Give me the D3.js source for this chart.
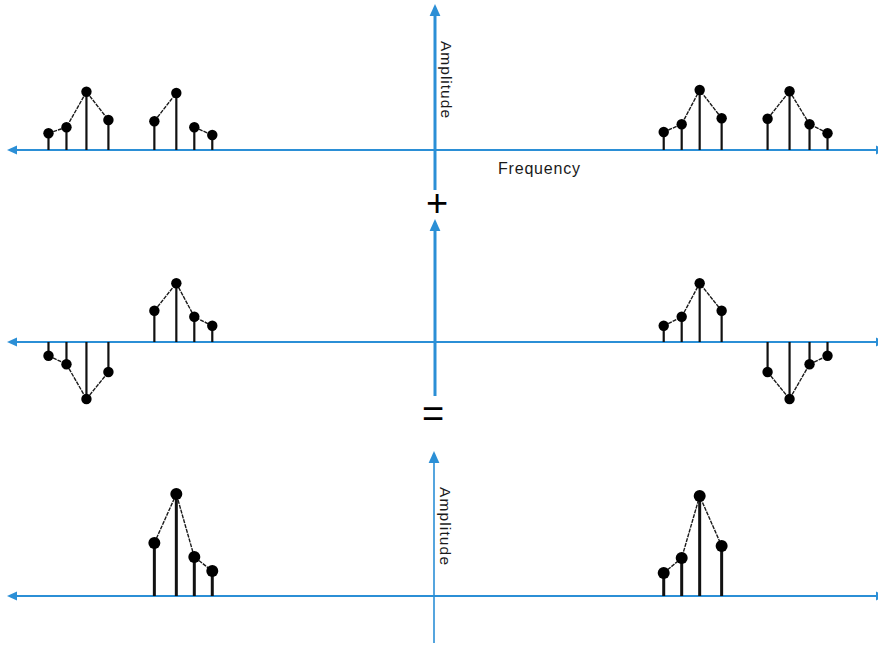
<!DOCTYPE html>
<meta charset="utf-8">
<body style="margin:0;background:#fff">
<script src="https://d3js.org/d3.v7.min.js" charset="utf-8"></script>
<style type="text/css">
  .stem { stroke: #111; }
  .link { stroke: #1a1a1a; fill: none; stroke-width: 1.4; stroke-dasharray: 4,1; }
  .dot { fill: #000; }
  .label { font-family: "Liberation Sans", Arial, sans-serif; fill: #1a1a1a; }
</style>
<script>
var width = 878;
var height = 645;
var blue = "#2b8fd6";

// frequencies (arbitrary units, symmetric about 0)
var freqs = [-19.5, -18.6, -17.6, -16.5, -14.2, -13.1, -12.2, -11.3,
             11.3, 12.2, 13.1, 14.2, 16.5, 17.6, 18.6, 19.5];
// spectrum 1 (top)
var topAmp = [0.28, 0.38, 0.97, 0.50, 0.48, 0.95, 0.38, 0.25,
              0.30, 0.43, 1.00, 0.53, 0.52, 0.98, 0.43, 0.28];
var topGroups = [[0, 1, 2, 3], [4, 5], [6, 7], [8, 9, 10, 11], [12, 13, 14, 15]];
// spectrum 2 (middle)
var midAmp = [-0.23, -0.37, -0.95, -0.50, 0.52, 0.98, 0.42, 0.27,
              0.27, 0.42, 0.98, 0.52, -0.50, -0.95, -0.37, -0.23];
var midGroups = [[0, 1, 2, 3], [4, 5, 6, 7], [8, 9, 10, 11], [12, 13, 14, 15]];
// sum (bottom)
var sumFreqs = [-14.2, -13.1, -12.2, -11.3, 11.3, 12.2, 13.1, 14.2];
var sumAmp = [1.06, 2.04, 0.78, 0.50, 0.46, 0.76, 2.00, 1.00];
var sumGroups = [[0, 1, 2, 3], [4, 5, 6, 7]];

var svg = d3.select("body")
            .append("svg")
            .attr("width", width)
            .attr("height", height);

var x = d3.scaleLinear().domain([-20, 20]).range([38.5, 837.5]);
var axisX = 435;

function arrow(g, tx, ty, dir, size) {
  var s = size, w = size * 0.45, pts;
  if (dir == "up") pts = [[tx, ty], [tx - w, ty + s], [tx + w, ty + s]];
  if (dir == "left") pts = [[tx, ty], [tx + s, ty - w], [tx + s, ty + w]];
  if (dir == "right") pts = [[tx, ty], [tx - s, ty - w], [tx - s, ty + w]];
  g.append("path")
   .attr("d", "M" + pts.join("L") + "Z")
   .attr("fill", blue);
}

function panel(opts) {
  var g = svg.append("g");
  var y = d3.scaleLinear().domain([0, 1]).range([opts.base, opts.base - opts.unit]);

  // horizontal frequency axis
  g.append("line")
   .attr("x1", 12).attr("x2", width + 4)
   .attr("y1", opts.base).attr("y2", opts.base)
   .attr("stroke", blue).attr("stroke-width", 2);
  arrow(g, 7, opts.base, "left", 10);
  arrow(g, width + 8, opts.base, "right", 10);

  // vertical amplitude axis
  g.append("line")
   .attr("x1", opts.vx).attr("x2", opts.vx)
   .attr("y1", opts.vTop + 8).attr("y2", opts.vBottom)
   .attr("stroke", blue).attr("stroke-width", opts.vWidth);
  arrow(g, opts.vx, opts.vTop, "up", 12);

  var pts = opts.freqs.map(function(f, i) {
    return { x: x(f), y: y(opts.amp[i]) };
  });

  g.selectAll(".stem")
   .data(pts)
   .enter()
   .append("line")
   .attr("class", "stem")
   .attr("x1", function(d) { return d.x; })
   .attr("x2", function(d) { return d.x; })
   .attr("y1", opts.base)
   .attr("y2", function(d) { return d.y; })
   .attr("stroke-width", opts.stemWidth);

  var line = d3.line().x(function(d) { return d.x; }).y(function(d) { return d.y; });
  g.selectAll(".link")
   .data(opts.groups)
   .enter()
   .append("path")
   .attr("class", "link")
   .attr("d", function(grp) {
     return line(grp.map(function(i) { return pts[i]; }));
   });

  g.selectAll(".dot")
   .data(pts)
   .enter()
   .append("circle")
   .attr("class", "dot")
   .attr("cx", function(d) { return d.x; })
   .attr("cy", function(d) { return d.y; })
   .attr("r", opts.r);
  return g;
}

panel({ base: 150, unit: 60, freqs: freqs, amp: topAmp, groups: topGroups,
        vx: axisX, vTop: 4, vBottom: 190, vWidth: 3, stemWidth: 2.2, r: 5.2 });
panel({ base: 342, unit: 60, freqs: freqs, amp: midAmp, groups: midGroups,
        vx: axisX, vTop: 219, vBottom: 396, vWidth: 3, stemWidth: 2.2, r: 5.2 });
panel({ base: 596, unit: 50, freqs: sumFreqs, amp: sumAmp, groups: sumGroups,
        vx: axisX - 1, vTop: 451, vBottom: 643, vWidth: 1.6, stemWidth: 3, r: 6 });

// labels
svg.append("text")
   .attr("class", "label")
   .attr("transform", "translate(441,41) rotate(90)")
   .attr("font-size", 15.5)
   .attr("textLength", 77)
   .attr("lengthAdjust", "spacing")
   .text("Amplitude");

svg.append("text")
   .attr("class", "label")
   .attr("transform", "translate(440,487) rotate(90)")
   .attr("font-size", 15.5)
   .attr("textLength", 78)
   .attr("lengthAdjust", "spacing")
   .text("Amplitude");

svg.append("text")
   .attr("class", "label")
   .attr("x", 498)
   .attr("y", 174)
   .attr("font-size", 16)
   .attr("textLength", 82)
   .attr("lengthAdjust", "spacing")
   .text("Frequency");

svg.append("text")
   .attr("class", "label")
   .attr("x", 437)
   .attr("y", 216)
   .attr("text-anchor", "middle")
   .attr("font-size", 38)
   .style("fill", "#000")
   .text("+");

svg.append("text")
   .attr("class", "label")
   .attr("x", 433)
   .attr("y", 427)
   .attr("text-anchor", "middle")
   .attr("font-size", 38)
   .style("fill", "#000")
   .text("=");
</script>
</body>
